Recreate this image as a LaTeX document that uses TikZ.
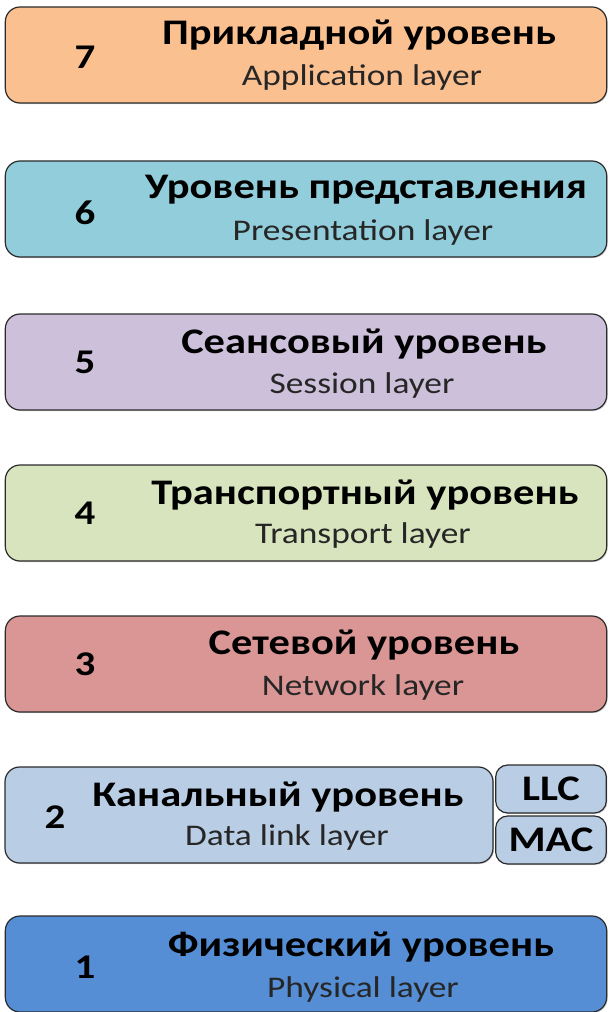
\documentclass[tikz,border=0pt]{standalone}
\usepackage{fontspec}
\setmainfont{Carlito}[FakeStretch=1.18]
\usetikzlibrary{positioning, shadows}
\definecolor{appc}{HTML}{FAC090}
\definecolor{presc}{HTML}{92CDDC}
\definecolor{sessc}{HTML}{CCC0DA}
\definecolor{transc}{HTML}{D7E4BD}
\definecolor{netc}{HTML}{D99694}
\definecolor{linkc}{HTML}{B9CDE5}
\definecolor{physc}{HTML}{558ED5}
\definecolor{edgec}{HTML}{2B2B2B}

\begin{document}
\begin{tikzpicture}[x=0.75pt, y=-0.75pt,
    layerbox/.style={draw=edgec, line width=0.9pt, rounded corners=11pt,
        minimum width=451pt, minimum height=72pt, inner sep=0pt,
        drop shadow={shadow xshift=0.8pt, shadow yshift=-0.8pt, opacity=0.35}},
    subbox/.style={layerbox, minimum width=83pt, minimum height=36pt, rounded corners=9pt},
    numtext/.style={font=\fontsize{26}{28}\selectfont\bfseries},
    titletext/.style={font=\fontsize{27}{29}\selectfont\bfseries},
    subtext/.style={font=\fontsize{22.5}{24}\selectfont, text=black!85}]
    \useasboundingbox (0,0) rectangle (610,1012);
    % layer boxes, top to bottom
    \node[layerbox, fill=appc]   (l7) at (306,55)  {};
    \node[layerbox, fill=presc]  (l6) at (306,209) {};
    \node[layerbox, fill=sessc]  (l5) at (306,362) {};
    \node[layerbox, fill=transc] (l4) at (306,513) {};
    \node[layerbox, fill=netc]   (l3) at (306,664) {};
    \node[layerbox, fill=linkc, minimum width=366pt] (l2) at (249,815) {};
    \node[subbox, fill=linkc] (llc) at (551,789) {};
    \node[subbox, fill=linkc] (mac) at (551,840) {};
    \node[layerbox, fill=physc]  (l1) at (306,964) {};
    % numbers
    \node[numtext] (n7) at (85,57)  {7};
    \node[numtext] (n6) at (85,213) {6};
    \node[numtext] (n5) at (85,362) {5};
    \node[numtext] (n4) at (85,513) {4};
    \node[numtext] (n3) at (85,664) {3};
    \node[numtext] (n2) at (55,817) {2};
    \node[numtext] (n1) at (85,967) {1};
    % layer names
    \node[titletext] (t7) at (359,35)  {Прикладной уровень};
    \node[subtext]   (s7) at (362,78)  {Application layer};
    \node[titletext] (t6) at (366,190) {Уровень представления};
    \node[subtext]   (s6) at (363,233) {Presentation layer};
    \node[titletext] (t5) at (364,344) {Сеансовый уровень};
    \node[subtext]   (s5) at (362,386) {Session layer};
    \node[titletext] (t4) at (365,495) {Транспортный уровень};
    \node[subtext]   (s4) at (363,535) {Transport layer};
    \node[titletext] (t3) at (364,645) {Сетевой уровень};
    \node[subtext]   (s3) at (363,687) {Network layer};
    \node[titletext] (t2) at (278,797) {Канальный уровень};
    \node[subtext]   (s2) at (287,837) {Data link layer};
    \node[titletext] (t1) at (361,947) {Физический уровень};
    \node[subtext]   (s1) at (363,989) {Physical layer};
    % sublayers
    \node[titletext] at (llc) {LLC};
    \node[titletext] at (mac) {MAC};
\end{tikzpicture}
\end{document}
